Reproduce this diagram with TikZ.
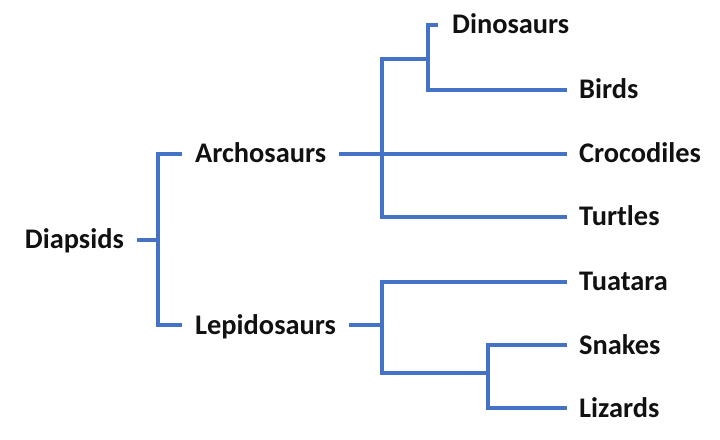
\documentclass[tikz,border=0pt]{standalone}
\usepackage{fontspec}
\setmainfont{Carlito}
\definecolor{branch}{HTML}{4472C4}
\definecolor{ink}{HTML}{111111}
\begin{document}
\begin{tikzpicture}[x=1bp,y=-1bp,
  lab/.style={font=\fontsize{28.5}{30}\selectfont\bfseries, text=ink, inner ysep=0pt, inner xsep=13bp, text height=18bp, text depth=0pt},
  br/.style={draw=branch, line width=4bp, line join=miter}]
\useasboundingbox (0,0) rectangle (720,440);
% labels
\node[lab, anchor=east] (Dia) at (137,240) {Diapsids};
\node[lab, anchor=west] (Arc) at (182,154) {Archosaurs};
\node[lab, anchor=west] (Lep) at (182,325) {Lepidosaurs};
\node[lab, anchor=west, inner xsep=14bp] (Din) at (438,25) {Dinosaurs};
\node[lab, anchor=west, inner xsep=12bp] (Bir) at (567,90) {Birds};
\node[lab, anchor=west, inner xsep=12bp] (Cro) at (567,154) {Crocodiles};
\node[lab, anchor=west, inner xsep=12bp] (Tur) at (567,217) {Turtles};
\node[lab, anchor=west, inner xsep=12bp] (Tua) at (567,282) {Tuatara};
\node[lab, anchor=west, inner xsep=12bp] (Sna) at (567,345) {Snakes};
\node[lab, anchor=west, inner xsep=12bp] (Liz) at (567,408) {Lizards};
% branch points
\coordinate (j1) at (158,240);
\coordinate (j2) at (382,154);
\coordinate (j3) at (428,59);
\coordinate (j4) at (382,325);
\coordinate (j5) at (488,373);
% connectors
\draw[br] (Dia.east) -- (j1);
\draw[br] (Arc.west) -- (Arc.west -| j1) -- (Lep.west -| j1) -- (Lep.west);
\draw[br] (Arc.east) -- (Cro.west);
\draw[br] (j3) -- (j3 -| j2) -- (Tur.west -| j2) -- (Tur.west);
\draw[br] (Din.west) -- (Din.west -| j3) -- (Bir.west -| j3) -- (Bir.west);
\draw[br] (Lep.east) -- (j4);
\draw[br] (Tua.west) -- (Tua.west -| j4) -- (j5 -| j4) -- (j5);
\draw[br] (Sna.west) -- (Sna.west -| j5) -- (Liz.west -| j5) -- (Liz.west);
\end{tikzpicture}
\end{document}
